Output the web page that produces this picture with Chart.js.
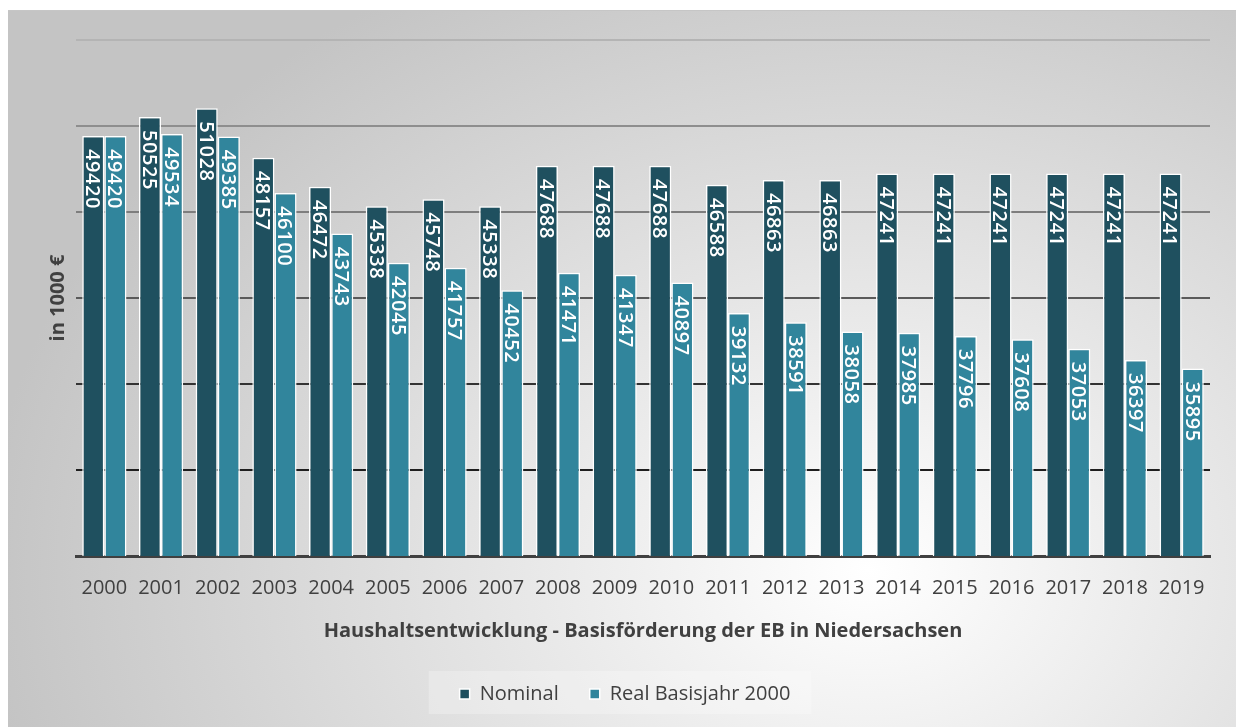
<!DOCTYPE html>
<html lang="de">
<head>
<meta charset="UTF-8">
<title>Haushaltsentwicklung - Basisförderung der EB in Niedersachsen</title>
<style>
    html, body {
        margin: 0;
        padding: 0;
        background: #fff;
        overflow: hidden;
    }
    #frame {
        position: absolute;
        left: 8px;
        top: 10px;
        width: 1228px;
        height: 717px;
        background: radial-gradient(ellipse 72% 95% at 70% 78%, #ffffff 0%, #ededed 30%, #c4c4c4 100%);
        border-top: 1px solid #c6c6c6;
    }
    #wrap {
        position: absolute;
        left: 0;
        top: 0;
        width: 1236px;
        height: 727px;
        overflow: hidden;
    }
</style>
<script src="https://cdn.jsdelivr.net/npm/chart.js"></script>
</head>
<body>
<div id="frame"></div>
<div id="wrap"><canvas id="haushaltChart" width="1236" height="714"></canvas></div>
<script>
    // values in 1000 €
    const years = ['2000', '2001', '2002', '2003', '2004', '2005', '2006', '2007', '2008', '2009',
                   '2010', '2011', '2012', '2013', '2014', '2015', '2016', '2017', '2018', '2019'];
    const nominal = [49420, 50525, 51028, 48157, 46472, 45338, 45748, 45338, 47688, 47688,
                     47688, 46588, 46863, 46863, 47241, 47241, 47241, 47241, 47241, 47241];
    const real = [49420, 49534, 49385, 46100, 43743, 42045, 41757, 40452, 41471, 41347,
                  40897, 39132, 38591, 38058, 37985, 37796, 37608, 37053, 36397, 35895];

    // grid lines get darker towards the bottom (25000 ... 55000)
    const gridColors = ['#333', '#1e1e1e', '#333', '#5a5a5a', '#7e7e7e', '#8e8e8e', '#b4b4b4'];

    const fontFamily = '"Open Sans", sans-serif';

    // values written vertically inside each bar
    const barLabels = {
        id: 'barLabels',
        afterDatasetsDraw(chart) {
            const ctx = chart.ctx;
            const size = 20;
            ctx.save();
            ctx.fillStyle = '#fff';
            ctx.font = '600 ' + size + 'px ' + fontFamily;
            ctx.letterSpacing = '0.6px';
            ctx.textAlign = 'left';
            ctx.textBaseline = 'alphabetic';
            chart.data.datasets.forEach((ds, i) => {
                chart.getDatasetMeta(i).data.forEach((bar, j) => {
                    ctx.save();
                    ctx.translate(bar.x, bar.y + 13);
                    ctx.rotate(Math.PI / 2);
                    // shift by half the digit height so the digits sit centred in the bar
                    ctx.fillText(String(ds.data[j]), 0, size * 0.357);
                    ctx.restore();
                });
            });
            ctx.restore();
        }
    };

    // light box behind the legend
    const legendBox = {
        id: 'legendBox',
        beforeDraw(chart) {
            const boxes = chart.legend.legendHitBoxes;
            if (!boxes || !boxes.length) return;
            const left = Math.min(...boxes.map(b => b.left)) - 31;
            const right = Math.max(...boxes.map(b => b.left + b.width)) + 21;
            const mid = boxes[0].top + boxes[0].height / 2;
            const ctx = chart.ctx;
            ctx.save();
            ctx.fillStyle = 'rgba(255, 255, 255, 0.25)';
            ctx.fillRect(left, mid - 23, right - left, 46);
            ctx.restore();
        }
    };

    new Chart(document.getElementById('haushaltChart'), {
        type: 'bar',
        data: {
            labels: years,
            datasets: [{
                label: 'Nominal',
                data: nominal,
                backgroundColor: '#1f505f',
                borderColor: '#ffffff',
                borderWidth: 1.5
            }, {
                label: 'Real Basisjahr 2000',
                data: real,
                backgroundColor: '#31859c',
                borderColor: '#ffffff',
                borderWidth: 1.5
            }]
        },
        options: {
            responsive: false,
            animation: false,
            layout: {
                padding: { left: 40, right: 26, top: 40, bottom: 0 }
            },
            datasets: {
                bar: { categoryPercentage: 0.78, barPercentage: 1 }
            },
            plugins: {
                legend: {
                    position: 'bottom',
                    labels: {
                        boxWidth: 10,
                        boxHeight: 10,
                        padding: 31,
                        color: '#404040',
                        font: { family: fontFamily, size: 20 }
                    }
                },
                tooltip: { enabled: false }
            },
            scales: {
                x: {
                    grid: { display: false, drawTicks: false },
                    border: { display: true, color: '#404040', width: 3 },
                    ticks: {
                        color: '#404040',
                        font: { family: fontFamily, size: 20, lineHeight: 1 },
                        padding: 22,
                        maxRotation: 0,
                        autoSkip: false
                    },
                    title: {
                        display: true,
                        text: 'Haushaltsentwicklung - Basisförderung der EB in Niedersachsen',
                        color: '#404040',
                        font: { family: fontFamily, size: 20, weight: 'bold', lineHeight: 1 },
                        padding: { top: 1, bottom: 12 }
                    }
                },
                y: {
                    min: 25000,
                    max: 55000,
                    ticks: { display: false, stepSize: 5000 },
                    grid: {
                        color: ctx => gridColors[ctx.index],
                        lineWidth: 2,
                        drawTicks: false
                    },
                    border: { display: false },
                    title: {
                        display: true,
                        text: 'in 1000 €',
                        color: '#404040',
                        font: { family: fontFamily, size: 20, weight: 'bold', lineHeight: 1 },
                        padding: { top: 8, bottom: 8 }
                    }
                }
            }
        },
        plugins: [legendBox, barLabels]
    });
</script>
</body>
</html>
